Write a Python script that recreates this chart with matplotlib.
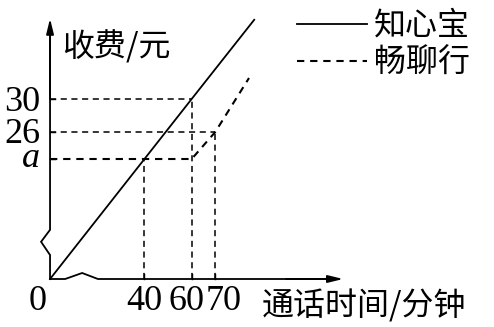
import matplotlib
matplotlib.use('Agg')
import matplotlib.pyplot as plt

# call time (minutes) marked on the x axis
minutes = [0, 40, 60, 70]
minute_labels = ['0', '40', '60', '70']
# fee levels marked on the y axis (the sketch draws "26" a bit low)
fee_levels = [30, 24.5, 20]
fee_labels = ['30', '26', 'a']

# 知心宝: straight through the origin
zhixin_t = [0, 60, 86.5]
zhixin_fee = [0, 30, 43.2]
# 畅聊行: flat at a up to 60 min, then rising
changliao_t = [0, 60, 70, 84.3]
changliao_fee = [20, 20, 24.5, 33.5]

cjk = ['Noto Sans CJK SC', 'DejaVu Sans']
serif = 'Liberation Serif'

fig = plt.figure(figsize=(4.94, 3.27), dpi=100)
ax = fig.add_axes([0, 0, 1, 1])
ax.set_xlim(-21.2, 188.1)
ax.set_ylim(-8.0, 46.5)
ax.axis('off')

k = dict(color='black', lw=1.3, solid_joinstyle='miter')
dash = (0, (4.0, 3.0))

# axes with the little break marks near the origin
ax.plot([0, 0, -3.8, 0, 0], [0, 4.0, 6.2, 8.2, 42], **k)
ax.plot([0, 6.4, 13.6, 20.3, 122], [0, 0, 1.0, 0, 0], **k)
ax.annotate('', xy=(0, 43.4), xytext=(0, 30),
            arrowprops=dict(arrowstyle='-|>,head_length=0.9,head_width=0.22',
                            color='black', lw=1.3, shrinkA=0, shrinkB=0))
ax.annotate('', xy=(124.2, 0), xytext=(100, 0),
            arrowprops=dict(arrowstyle='-|>,head_length=0.9,head_width=0.22',
                            color='black', lw=1.3, shrinkA=0, shrinkB=0))

# guide lines
ax.plot([0, 60], [30, 30], color='black', lw=1.1, ls=dash)
ax.plot([0, 70], [24.5, 24.5], color='black', lw=1.1, ls=dash)
ax.plot([60, 60], [0, 30], color='black', lw=1.1, ls=dash)
ax.plot([70, 70], [0, 24.5], color='black', lw=1.1, ls=dash)
ax.plot([40, 40], [0, 20], color='black', lw=1.1, ls=dash)

ax.plot(zhixin_t, zhixin_fee, color='black', lw=1.3, label='知心宝')
ax.plot(changliao_t, changliao_fee, color='black', lw=1.5, ls=(0, (3.5, 2.8)),
        label='畅聊行')

# small ticks
for v in fee_levels:
    ax.plot([0, 2.2], [v, v], color='black', lw=1.0)
for m in minutes[1:]:
    ax.plot([m, m], [0, 0.8], color='black', lw=1.0)

# tick labels
x_shift = {'0': -12, '40': 0, '60': -5, '70': 8}
for m, lab in zip(minutes, minute_labels):
    ax.annotate(lab, (m, 0), xytext=(x_shift[lab], -31), textcoords='offset pixels',
                ha='center', va='baseline', fontsize=26, family=serif)
y_shift = {'30': -12, '26': -11, 'a': -8}
for v, lab in zip(fee_levels, fee_labels):
    ax.annotate(lab, (0, v), xytext=(-10, y_shift[lab]), textcoords='offset pixels',
                ha='right', va='baseline', fontsize=26, family=serif,
                style='italic' if lab == 'a' else 'normal')

ax.text(116 / 494, 1 - 47 / 327, '收费/元', transform=ax.transAxes,
        ha='center', va='center', fontsize=23, family=cjk)
ax.text(364 / 494, 1 - 306 / 327, '通话时间/分钟', transform=ax.transAxes,
        ha='center', va='center', fontsize=23, family=cjk)

leg = ax.legend(loc='upper left', bbox_to_anchor=(297 / 494, 1 - 10 / 327),
                frameon=False, borderaxespad=0, borderpad=0,
                handlelength=2.2, handletextpad=0.2, labelspacing=0.15,
                prop={'family': cjk, 'size': 23})

fig.savefig('out.png', dpi=100)
